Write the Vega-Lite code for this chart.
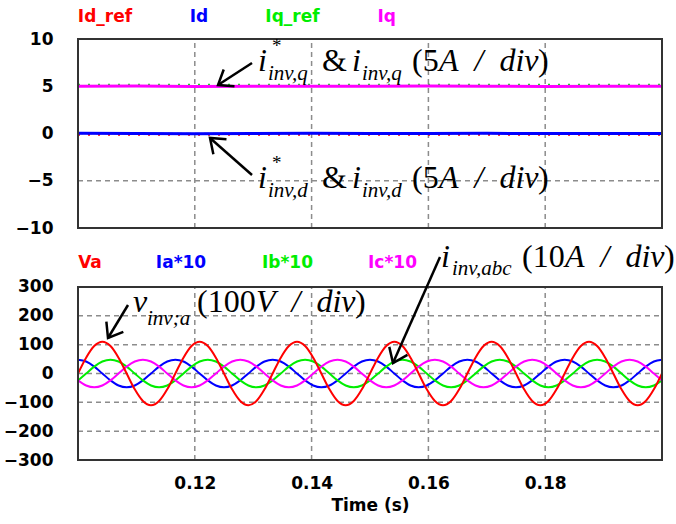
{
"$schema": "https://vega.github.io/schema/vega-lite/v6.json",
"width": 584, "height": 421,
"autosize": {"type": "none"},
"padding": {"left": 78, "top": 39, "right": 14, "bottom": 64},
"background": "white",
"config": {
  "view": {"stroke": null},
  "axis": {"labelFont": "DejaVu Sans", "labelFontWeight": "bold", "labelFontSize": 17, "labelColor": "#000", "ticks": false, "tickSize": 0, "domain": false, "grid": false, "titleFont": "DejaVu Sans", "titleFontWeight": "bold", "titleFontSize": 17, "titleColor": "#000"},
  "axisY": {"labelPadding": 25},
  "axisX": {"labelPadding": 15, "titlePadding": 6}
},
"datasets": {
  "wave": [
    {"t":0.1,"Va":0,"Ia":48,"Ib":-24,"Ic":-24},
    {"t":0.10139,"Va":55,"Ia":41.6,"Ib":0,"Ic":-41.6},
    {"t":0.10278,"Va":95.3,"Ia":24,"Ib":24,"Ic":-48},
    {"t":0.10417,"Va":110,"Ia":0,"Ib":41.6,"Ic":-41.6},
    {"t":0.10556,"Va":95.3,"Ia":-24,"Ib":48,"Ic":-24},
    {"t":0.10694,"Va":55,"Ia":-41.6,"Ib":41.6,"Ic":0},
    {"t":0.10833,"Va":0,"Ia":-48,"Ib":24,"Ic":24},
    {"t":0.10972,"Va":-55,"Ia":-41.6,"Ib":0,"Ic":41.6},
    {"t":0.11111,"Va":-95.3,"Ia":-24,"Ib":-24,"Ic":48},
    {"t":0.1125,"Va":-110,"Ia":0,"Ib":-41.6,"Ic":41.6},
    {"t":0.11389,"Va":-95.3,"Ia":24,"Ib":-48,"Ic":24},
    {"t":0.11528,"Va":-55,"Ia":41.6,"Ib":-41.6,"Ic":0},
    {"t":0.11667,"Va":0,"Ia":48,"Ib":-24,"Ic":-24},
    {"t":0.11806,"Va":55,"Ia":41.6,"Ib":0,"Ic":-41.6},
    {"t":0.11944,"Va":95.3,"Ia":24,"Ib":24,"Ic":-48},
    {"t":0.12083,"Va":110,"Ia":0,"Ib":41.6,"Ic":-41.6},
    {"t":0.12222,"Va":95.3,"Ia":-24,"Ib":48,"Ic":-24},
    {"t":0.12361,"Va":55,"Ia":-41.6,"Ib":41.6,"Ic":0},
    {"t":0.125,"Va":0,"Ia":-48,"Ib":24,"Ic":24},
    {"t":0.12639,"Va":-55,"Ia":-41.6,"Ib":0,"Ic":41.6},
    {"t":0.12778,"Va":-95.3,"Ia":-24,"Ib":-24,"Ic":48},
    {"t":0.12917,"Va":-110,"Ia":0,"Ib":-41.6,"Ic":41.6},
    {"t":0.13056,"Va":-95.3,"Ia":24,"Ib":-48,"Ic":24},
    {"t":0.13194,"Va":-55,"Ia":41.6,"Ib":-41.6,"Ic":0},
    {"t":0.13333,"Va":0,"Ia":48,"Ib":-24,"Ic":-24},
    {"t":0.13472,"Va":55,"Ia":41.6,"Ib":0,"Ic":-41.6},
    {"t":0.13611,"Va":95.3,"Ia":24,"Ib":24,"Ic":-48},
    {"t":0.1375,"Va":110,"Ia":0,"Ib":41.6,"Ic":-41.6},
    {"t":0.13889,"Va":95.3,"Ia":-24,"Ib":48,"Ic":-24},
    {"t":0.14028,"Va":55,"Ia":-41.6,"Ib":41.6,"Ic":0},
    {"t":0.14167,"Va":0,"Ia":-48,"Ib":24,"Ic":24},
    {"t":0.14306,"Va":-55,"Ia":-41.6,"Ib":0,"Ic":41.6},
    {"t":0.14444,"Va":-95.3,"Ia":-24,"Ib":-24,"Ic":48},
    {"t":0.14583,"Va":-110,"Ia":0,"Ib":-41.6,"Ic":41.6},
    {"t":0.14722,"Va":-95.3,"Ia":24,"Ib":-48,"Ic":24},
    {"t":0.14861,"Va":-55,"Ia":41.6,"Ib":-41.6,"Ic":0},
    {"t":0.15,"Va":0,"Ia":48,"Ib":-24,"Ic":-24},
    {"t":0.15139,"Va":55,"Ia":41.6,"Ib":0,"Ic":-41.6},
    {"t":0.15278,"Va":95.3,"Ia":24,"Ib":24,"Ic":-48},
    {"t":0.15417,"Va":110,"Ia":0,"Ib":41.6,"Ic":-41.6},
    {"t":0.15556,"Va":95.3,"Ia":-24,"Ib":48,"Ic":-24},
    {"t":0.15694,"Va":55,"Ia":-41.6,"Ib":41.6,"Ic":0},
    {"t":0.15833,"Va":0,"Ia":-48,"Ib":24,"Ic":24},
    {"t":0.15972,"Va":-55,"Ia":-41.6,"Ib":0,"Ic":41.6},
    {"t":0.16111,"Va":-95.3,"Ia":-24,"Ib":-24,"Ic":48},
    {"t":0.1625,"Va":-110,"Ia":0,"Ib":-41.6,"Ic":41.6},
    {"t":0.16389,"Va":-95.3,"Ia":24,"Ib":-48,"Ic":24},
    {"t":0.16528,"Va":-55,"Ia":41.6,"Ib":-41.6,"Ic":0},
    {"t":0.16667,"Va":0,"Ia":48,"Ib":-24,"Ic":-24},
    {"t":0.16806,"Va":55,"Ia":41.6,"Ib":0,"Ic":-41.6},
    {"t":0.16944,"Va":95.3,"Ia":24,"Ib":24,"Ic":-48},
    {"t":0.17083,"Va":110,"Ia":0,"Ib":41.6,"Ic":-41.6},
    {"t":0.17222,"Va":95.3,"Ia":-24,"Ib":48,"Ic":-24},
    {"t":0.17361,"Va":55,"Ia":-41.6,"Ib":41.6,"Ic":0},
    {"t":0.175,"Va":0,"Ia":-48,"Ib":24,"Ic":24},
    {"t":0.17639,"Va":-55,"Ia":-41.6,"Ib":0,"Ic":41.6},
    {"t":0.17778,"Va":-95.3,"Ia":-24,"Ib":-24,"Ic":48},
    {"t":0.17917,"Va":-110,"Ia":0,"Ib":-41.6,"Ic":41.6},
    {"t":0.18056,"Va":-95.3,"Ia":24,"Ib":-48,"Ic":24},
    {"t":0.18194,"Va":-55,"Ia":41.6,"Ib":-41.6,"Ic":0},
    {"t":0.18333,"Va":0,"Ia":48,"Ib":-24,"Ic":-24},
    {"t":0.18472,"Va":55,"Ia":41.6,"Ib":0,"Ic":-41.6},
    {"t":0.18611,"Va":95.3,"Ia":24,"Ib":24,"Ic":-48},
    {"t":0.1875,"Va":110,"Ia":0,"Ib":41.6,"Ic":-41.6},
    {"t":0.18889,"Va":95.3,"Ia":-24,"Ib":48,"Ic":-24},
    {"t":0.19028,"Va":55,"Ia":-41.6,"Ib":41.6,"Ic":0},
    {"t":0.19167,"Va":0,"Ia":-48,"Ib":24,"Ic":24},
    {"t":0.19306,"Va":-55,"Ia":-41.6,"Ib":0,"Ic":41.6},
    {"t":0.19444,"Va":-95.3,"Ia":-24,"Ib":-24,"Ic":48},
    {"t":0.19583,"Va":-110,"Ia":0,"Ib":-41.6,"Ic":41.6},
    {"t":0.19722,"Va":-95.3,"Ia":24,"Ib":-48,"Ic":24},
    {"t":0.19861,"Va":-55,"Ia":41.6,"Ib":-41.6,"Ic":0},
    {"t":0.2,"Va":0,"Ia":48,"Ib":-24,"Ic":-24}
  ],
  "dq": [
    {"s":"Iq","t":0.1,"v":5},{"s":"Iq","t":0.11,"v":5.02},{"s":"Iq","t":0.12,"v":4.98},{"s":"Iq","t":0.13,"v":5.01},{"s":"Iq","t":0.14,"v":5},{"s":"Iq","t":0.15,"v":4.99},{"s":"Iq","t":0.16,"v":5.02},{"s":"Iq","t":0.17,"v":5},{"s":"Iq","t":0.18,"v":4.98},{"s":"Iq","t":0.19,"v":5.01},{"s":"Iq","t":0.2,"v":5},
    {"s":"Id","t":0.1,"v":0.02},{"s":"Id","t":0.11,"v":0},{"s":"Id","t":0.12,"v":-0.02},{"s":"Id","t":0.13,"v":0.01},{"s":"Id","t":0.14,"v":0.03},{"s":"Id","t":0.15,"v":0},{"s":"Id","t":0.16,"v":-0.01},{"s":"Id","t":0.17,"v":0.02},{"s":"Id","t":0.18,"v":0},{"s":"Id","t":0.19,"v":0.01},{"s":"Id","t":0.2,"v":0}
  ],
  "dqref": [
    {"s":"Iq_ref","t":0.1,"v":5.15},{"s":"Iq_ref","t":0.15,"v":5.15},{"s":"Iq_ref","t":0.2,"v":5.15},
    {"s":"Id_ref","t":0.1,"v":-0.12},{"s":"Id_ref","t":0.15,"v":-0.12},{"s":"Id_ref","t":0.2,"v":-0.12}
  ],
  "gridT": [
    {"t":0.12,"t2":0.12,"v":-10,"v2":10},{"t":0.14,"t2":0.14,"v":-10,"v2":10},{"t":0.16,"t2":0.16,"v":-10,"v2":10},{"t":0.18,"t2":0.18,"v":-10,"v2":10},
    {"t":0.1,"t2":0.2,"v":5,"v2":5},{"t":0.1,"t2":0.2,"v":0,"v2":0},{"t":0.1,"t2":0.2,"v":-5,"v2":-5}
  ],
  "gridB": [
    {"t":0.12,"t2":0.12,"v":-300,"v2":300},{"t":0.14,"t2":0.14,"v":-300,"v2":300},{"t":0.16,"t2":0.16,"v":-300,"v2":300},{"t":0.18,"t2":0.18,"v":-300,"v2":300},
    {"t":0.1,"t2":0.2,"v":200,"v2":200},{"t":0.1,"t2":0.2,"v":100,"v2":100},{"t":0.1,"t2":0.2,"v":0,"v2":0},{"t":0.1,"t2":0.2,"v":-100,"v2":-100},{"t":0.1,"t2":0.2,"v":-200,"v2":-200}
  ],
  "frames": [
    {"panel":"top","t":0.1,"t2":0.2,"v":-10,"v2":10},
    {"panel":"bot","t":0.1,"t2":0.2,"v":-300,"v2":300}
  ],
  "leg": [
    {"panel":"top","s":"Id_ref","label":"Id_ref","t":0.10462,"v":12.33},
    {"panel":"top","s":"Id","label":"Id","t":0.12071,"v":12.33},
    {"panel":"top","s":"Iq_ref","label":"Iq_ref","t":0.13673,"v":12.33},
    {"panel":"top","s":"Iq","label":"Iq","t":0.15286,"v":12.33},
    {"panel":"bot","s":"Va","label":"Va","t":0.10205,"v":383.2},
    {"panel":"bot","s":"Ia","label":"Ia*10","t":0.11764,"v":383.2},
    {"panel":"bot","s":"Ib","label":"Ib*10","t":0.13587,"v":383.2},
    {"panel":"bot","s":"Ic","label":"Ic*10","t":0.15385,"v":383.2}
  ],
  "ann": [
    {"panel":"top","kind":"mi","t":0.130822,"v":6.614,"txt":"i"},
    {"panel":"top","kind":"sup","t":0.13322,"v":8.62,"txt":"*"},
    {"panel":"top","kind":"sub","t":0.132534,"v":5.661,"txt":"inv,q"},
    {"panel":"top","kind":"mr","t":0.141781,"v":6.614,"txt":"&"},
    {"panel":"top","kind":"mi","t":0.146918,"v":6.614,"txt":"i"},
    {"panel":"top","kind":"sub","t":0.14863,"v":5.661,"txt":"inv,q"},
    {"panel":"top","kind":"mr","t":0.157192,"v":6.614,"txt":"(5"},
    {"panel":"top","kind":"mi","t":0.161815,"v":6.614,"txt":"A\u2002/\u2002div"},
    {"panel":"top","kind":"mr","t":0.178767,"v":6.614,"txt":")"},
    {"panel":"top","kind":"mi","t":0.130822,"v":-5.767,"txt":"i"},
    {"panel":"top","kind":"sup","t":0.13322,"v":-3.76,"txt":"*"},
    {"panel":"top","kind":"sub","t":0.132534,"v":-6.72,"txt":"inv,d"},
    {"panel":"top","kind":"mr","t":0.141781,"v":-5.767,"txt":"&"},
    {"panel":"top","kind":"mi","t":0.146918,"v":-5.767,"txt":"i"},
    {"panel":"top","kind":"sub","t":0.14863,"v":-6.72,"txt":"inv,d"},
    {"panel":"top","kind":"mr","t":0.157192,"v":-5.767,"txt":"(5"},
    {"panel":"top","kind":"mi","t":0.161815,"v":-5.767,"txt":"A\u2002/\u2002div"},
    {"panel":"top","kind":"mr","t":0.178767,"v":-5.767,"txt":")"},
    {"panel":"bot","kind":"mi","t":0.109418,"v":213.3,"txt":"v"},
    {"panel":"bot","kind":"sub","t":0.111815,"v":168.2,"txt":"inv;a"},
    {"panel":"bot","kind":"mr","t":0.120377,"v":213.3,"txt":"(100"},
    {"panel":"bot","kind":"mi","t":0.130479,"v":213.3,"txt":"V\u2002/\u2002div"},
    {"panel":"bot","kind":"mr","t":0.147432,"v":213.3,"txt":")"},
    {"panel":"bot","kind":"mi","t":0.162158,"v":369.4,"txt":"i"},
    {"panel":"bot","kind":"sub","t":0.164041,"v":341.6,"txt":"inv,abc"},
    {"panel":"bot","kind":"mr","t":0.176027,"v":369.4,"txt":"(10"},
    {"panel":"bot","kind":"mi","t":0.18339,"v":369.4,"txt":"A\u2002/\u2002div"},
    {"panel":"bot","kind":"mr","t":0.200342,"v":369.4,"txt":")"}
  ],
  "arrows": [
    {"panel":"top","t":0.123973,"v":5.132,"t2":0.129795,"v2":7.46,"ang":147.1},
    {"panel":"top","t":0.122603,"v":-0.476,"t2":0.129795,"v2":-4.392,"ang":221.4},
    {"panel":"bot","t":0.105137,"v":123.1,"t2":0.108562,"v2":237.6,"ang":121.2},
    {"panel":"bot","t":0.153938,"v":36.4,"t2":0.161986,"v2":404.0,"ang":113.9}
  ]
},
"encoding": {
  "x": {"field": "t", "type": "quantitative",
    "scale": {"domain": [0.1, 0.2], "nice": false, "zero": false},
    "axis": {"values": [0.12, 0.14, 0.16, 0.18], "format": ".2f", "title": "Time (s)"}}
},
"resolve": {"scale": {"y": "independent"}},
"layer": [
  {"data": {"name": "gridT"},
   "mark": {"type": "rule", "stroke": "#8c8c8c", "strokeWidth": 1.5, "strokeDash": [5, 4]},
   "encoding": {"x2": {"field": "t2"}, "y": {"field": "v", "type": "quantitative", "scale": {"domain": [-34.55, 10], "nice": false, "zero": false}, "axis": null}, "y2": {"field": "v2"}}},
  {"data": {"name": "gridB"},
   "mark": {"type": "rule", "stroke": "#8c8c8c", "strokeWidth": 1.5, "strokeDash": [5, 4]},
   "encoding": {"x2": {"field": "t2"}, "y": {"field": "v", "type": "quantitative", "scale": {"domain": [-300, 1160.1], "nice": false, "zero": false}, "axis": null}, "y2": {"field": "v2"}}},
  {"data": {"name": "dqref"},
   "mark": {"type": "line", "strokeWidth": 2, "strokeDash": [2, 8]},
   "encoding": {"y": {"field": "v", "type": "quantitative", "scale": {"domain": [-34.55, 10], "nice": false, "zero": false}, "axis": null},
     "color": {"field": "s", "type": "nominal", "legend": null, "scale": {"domain": ["Id_ref","Id","Iq_ref","Iq","Va","Ia","Ib","Ic"], "range": ["#ff0000","#0000ff","#00ee00","#ff00ff","#ff0000","#0000ff","#00ee00","#ff00ff"]}}}},
  {"data": {"name": "dq"},
   "mark": {"type": "line", "strokeWidth": 3},
   "encoding": {"y": {"field": "v", "type": "quantitative", "scale": {"domain": [-34.55, 10], "nice": false, "zero": false}, "axis": null},
     "color": {"field": "s", "type": "nominal", "legend": null, "scale": {"domain": ["Id_ref","Id","Iq_ref","Iq","Va","Ia","Ib","Ic"], "range": ["#ff0000","#0000ff","#00ee00","#ff00ff","#ff0000","#0000ff","#00ee00","#ff00ff"]}}}},
  {"data": {"name": "wave"},
   "transform": [{"fold": ["Ia", "Ib", "Ic", "Va"], "as": ["s", "v"]}],
   "mark": {"type": "line", "strokeWidth": 2, "interpolate": "monotone"},
   "encoding": {"y": {"field": "v", "type": "quantitative", "scale": {"domain": [-300, 1160.1], "nice": false, "zero": false}, "axis": null},
     "color": {"field": "s", "type": "nominal", "legend": null, "scale": {"domain": ["Id_ref","Id","Iq_ref","Iq","Va","Ia","Ib","Ic"], "range": ["#ff0000","#0000ff","#00ee00","#ff00ff","#ff0000","#0000ff","#00ee00","#ff00ff"]}}}},
  {"data": {"name": "frames"},
   "transform": [{"filter": "datum.panel === 'top'"}],
   "mark": {"type": "rect", "filled": false, "stroke": "#333333", "strokeWidth": 2},
   "encoding": {"x2": {"field": "t2"}, "y": {"field": "v", "type": "quantitative", "scale": {"domain": [-34.55, 10], "nice": false, "zero": false}, "axis": {"values": [-10, -5, 0, 5, 10], "title": null, "orient": "left"}}, "y2": {"field": "v2"}}},
  {"data": {"name": "frames"},
   "transform": [{"filter": "datum.panel === 'bot'"}],
   "mark": {"type": "rect", "filled": false, "stroke": "#333333", "strokeWidth": 2},
   "encoding": {"x2": {"field": "t2"}, "y": {"field": "v", "type": "quantitative", "scale": {"domain": [-300, 1160.1], "nice": false, "zero": false}, "axis": {"values": [-300, -200, -100, 0, 100, 200, 300], "title": null, "orient": "left"}}, "y2": {"field": "v2"}}},
  {"data": {"name": "leg"},
   "transform": [{"filter": "datum.panel === 'top'"}],
   "mark": {"type": "text", "font": "DejaVu Sans", "fontWeight": "bold", "fontSize": 17, "align": "center", "baseline": "middle"},
   "encoding": {"y": {"field": "v", "type": "quantitative", "scale": {"domain": [-34.55, 10], "nice": false, "zero": false}, "axis": null}, "text": {"field": "label"},
     "color": {"field": "s", "type": "nominal", "legend": null, "scale": {"domain": ["Id_ref","Id","Iq_ref","Iq","Va","Ia","Ib","Ic"], "range": ["#ff0000","#0000ff","#00ee00","#ff00ff","#ff0000","#0000ff","#00ee00","#ff00ff"]}}}},
  {"data": {"name": "leg"},
   "transform": [{"filter": "datum.panel === 'bot'"}],
   "mark": {"type": "text", "font": "DejaVu Sans", "fontWeight": "bold", "fontSize": 17, "align": "center", "baseline": "middle"},
   "encoding": {"y": {"field": "v", "type": "quantitative", "scale": {"domain": [-300, 1160.1], "nice": false, "zero": false}, "axis": null}, "text": {"field": "label"},
     "color": {"field": "s", "type": "nominal", "legend": null, "scale": {"domain": ["Id_ref","Id","Iq_ref","Iq","Va","Ia","Ib","Ic"], "range": ["#ff0000","#0000ff","#00ee00","#ff00ff","#ff0000","#0000ff","#00ee00","#ff00ff"]}}}},
  {"data": {"name": "ann"},
   "transform": [{"filter": "datum.panel === 'top' && datum.kind === 'mi'"}],
   "mark": {"type": "text", "font": "Liberation Serif", "fontStyle": "italic", "fontSize": 32, "align": "left", "baseline": "alphabetic", "fill": "#000"},
   "encoding": {"y": {"field": "v", "type": "quantitative", "scale": {"domain": [-34.55, 10], "nice": false, "zero": false}, "axis": null}, "text": {"field": "txt"}}},
  {"data": {"name": "ann"},
   "transform": [{"filter": "datum.panel === 'top' && datum.kind === 'mr'"}],
   "mark": {"type": "text", "font": "Liberation Serif", "fontSize": 32, "align": "left", "baseline": "alphabetic", "fill": "#000"},
   "encoding": {"y": {"field": "v", "type": "quantitative", "scale": {"domain": [-34.55, 10], "nice": false, "zero": false}, "axis": null}, "text": {"field": "txt"}}},
  {"data": {"name": "ann"},
   "transform": [{"filter": "datum.panel === 'top' && datum.kind === 'sub'"}],
   "mark": {"type": "text", "font": "Liberation Serif", "fontStyle": "italic", "fontSize": 21, "align": "left", "baseline": "alphabetic", "fill": "#000"},
   "encoding": {"y": {"field": "v", "type": "quantitative", "scale": {"domain": [-34.55, 10], "nice": false, "zero": false}, "axis": null}, "text": {"field": "txt"}}},
  {"data": {"name": "ann"},
   "transform": [{"filter": "datum.panel === 'top' && datum.kind === 'sup'"}],
   "mark": {"type": "text", "font": "Liberation Serif", "fontSize": 19, "align": "left", "baseline": "alphabetic", "fill": "#000"},
   "encoding": {"y": {"field": "v", "type": "quantitative", "scale": {"domain": [-34.55, 10], "nice": false, "zero": false}, "axis": null}, "text": {"field": "txt"}}},
  {"data": {"name": "ann"},
   "transform": [{"filter": "datum.panel === 'bot' && datum.kind === 'mi'"}],
   "mark": {"type": "text", "font": "Liberation Serif", "fontStyle": "italic", "fontSize": 32, "align": "left", "baseline": "alphabetic", "fill": "#000"},
   "encoding": {"y": {"field": "v", "type": "quantitative", "scale": {"domain": [-300, 1160.1], "nice": false, "zero": false}, "axis": null}, "text": {"field": "txt"}}},
  {"data": {"name": "ann"},
   "transform": [{"filter": "datum.panel === 'bot' && datum.kind === 'mr'"}],
   "mark": {"type": "text", "font": "Liberation Serif", "fontSize": 32, "align": "left", "baseline": "alphabetic", "fill": "#000"},
   "encoding": {"y": {"field": "v", "type": "quantitative", "scale": {"domain": [-300, 1160.1], "nice": false, "zero": false}, "axis": null}, "text": {"field": "txt"}}},
  {"data": {"name": "ann"},
   "transform": [{"filter": "datum.panel === 'bot' && datum.kind === 'sub'"}],
   "mark": {"type": "text", "font": "Liberation Serif", "fontStyle": "italic", "fontSize": 21, "align": "left", "baseline": "alphabetic", "fill": "#000"},
   "encoding": {"y": {"field": "v", "type": "quantitative", "scale": {"domain": [-300, 1160.1], "nice": false, "zero": false}, "axis": null}, "text": {"field": "txt"}}},
  {"data": {"name": "arrows"},
   "transform": [{"filter": "datum.panel === 'top'"}],
   "mark": {"type": "rule", "stroke": "#000", "strokeWidth": 2.5},
   "encoding": {"x2": {"field": "t2"}, "y": {"field": "v", "type": "quantitative", "scale": {"domain": [-34.55, 10], "nice": false, "zero": false}, "axis": null}, "y2": {"field": "v2"}}},
  {"data": {"name": "arrows"},
   "transform": [{"filter": "datum.panel === 'top'"}],
   "mark": {"type": "point", "shape": "M-1,-0.75L0,0L-1,0.75", "filled": false, "stroke": "#000", "strokeWidth": 2.5, "size": 700, "opacity": 1},
   "encoding": {"y": {"field": "v", "type": "quantitative", "scale": {"domain": [-34.55, 10], "nice": false, "zero": false}, "axis": null}, "angle": {"field": "ang", "type": "quantitative", "scale": null}}},
  {"data": {"name": "arrows"},
   "transform": [{"filter": "datum.panel === 'bot'"}],
   "mark": {"type": "rule", "stroke": "#000", "strokeWidth": 2.5},
   "encoding": {"x2": {"field": "t2"}, "y": {"field": "v", "type": "quantitative", "scale": {"domain": [-300, 1160.1], "nice": false, "zero": false}, "axis": null}, "y2": {"field": "v2"}}},
  {"data": {"name": "arrows"},
   "transform": [{"filter": "datum.panel === 'bot'"}],
   "mark": {"type": "point", "shape": "M-1,-0.75L0,0L-1,0.75", "filled": false, "stroke": "#000", "strokeWidth": 2.5, "size": 700, "opacity": 1},
   "encoding": {"y": {"field": "v", "type": "quantitative", "scale": {"domain": [-300, 1160.1], "nice": false, "zero": false}, "axis": null}, "angle": {"field": "ang", "type": "quantitative", "scale": null}}}
]
}
